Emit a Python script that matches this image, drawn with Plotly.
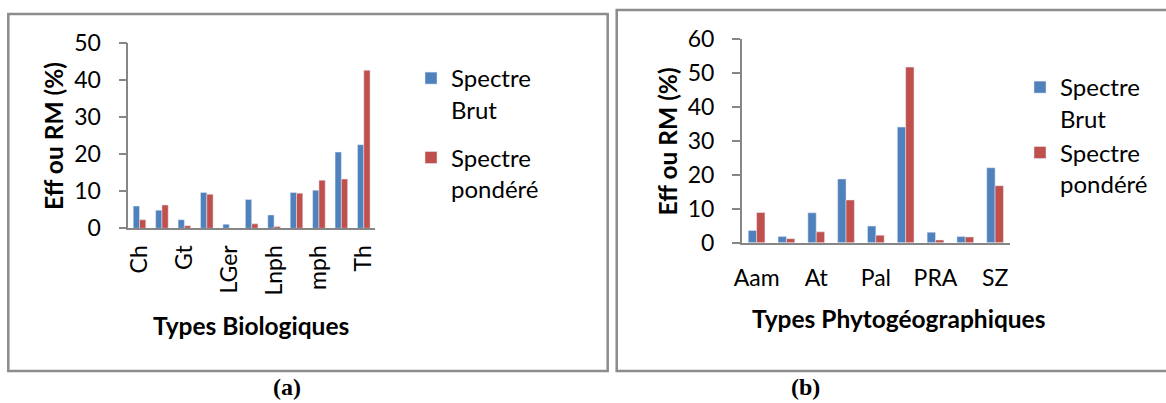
import plotly.graph_objects as go

# ---------------- data ----------------
bio_types = ["Ch", "Gb", "Gt", "He", "LGer", "Lmph", "Lnph", "mcph", "mph", "nph", "Th"]
bio_brut = [6.0, 4.9, 2.3, 9.7, 1.1, 7.8, 3.6, 9.7, 10.3, 20.6, 22.6]
bio_pond = [2.3, 6.3, 0.7, 9.2, 0.0, 1.2, 0.5, 9.5, 13.0, 13.3, 42.7]
bio_ticks = ["Ch", "Gt", "LGer", "Lnph", "mph", "Th"]

geo_types = ["Aam", "Cosm", "At", "End", "Pal", "SA", "PRA", "Med", "SZ"]
geo_brut = [3.6, 1.8, 8.8, 18.8, 4.9, 34.1, 3.1, 1.8, 22.1]
geo_pond = [8.9, 1.2, 3.2, 12.6, 2.2, 51.8, 0.8, 1.7, 16.8]
geo_ticks = ["Aam", "At", "Pal", "PRA", "SZ"]

series_names = ["Spectre<br>Brut", "Spectre<br>pondéré"]
colors = ["#4F81BD", "#C0504D"]

# ---------------- layout helpers ----------------
W, H = 1166, 403
def xp(px):
    return px / W
def yp(py):
    return 1 - py / H

FONT = "Lato"
AXC = "#868686"

fig = go.Figure()

for name, vals, col, grp in zip(series_names, [bio_brut, bio_pond], colors, ["b", "p"]):
    fig.add_trace(go.Bar(x=bio_types, y=vals, name=name, marker_color=col,
                         xaxis="x", yaxis="y", legend="legend", legendgroup=grp))
for name, vals, col, grp in zip(series_names, [geo_brut, geo_pond], colors, ["b", "p"]):
    fig.add_trace(go.Bar(x=geo_types, y=vals, name=name, marker_color=col,
                         xaxis="x2", yaxis="y2", legend="legend2", legendgroup=grp))

common_y = dict(showline=True, linecolor=AXC, linewidth=1.5, ticks="outside",
                ticklen=8, tickwidth=1.5, tickcolor=AXC, showgrid=False, zeroline=False,
                tickfont=dict(family=FONT, size=23, color="black"), ticklabelstandoff=13)
common_x = dict(showline=True, linecolor=AXC, linewidth=1.5, ticks="", showgrid=False,
                tickfont=dict(family=FONT, size=23, color="black"), type="category")

fig.update_layout(
    width=W, height=H, autosize=False,
    margin=dict(l=0, r=0, t=0, b=0, autoexpand=False),
    paper_bgcolor="white", plot_bgcolor="white",
    barmode="group", bargap=0.44, bargroupgap=0,
    font=dict(family=FONT, color="black"),
    xaxis=dict(domain=[xp(128.3), xp(375)], anchor="y", tickangle=-90,
               tickvals=bio_ticks, ticktext=bio_ticks, ticklabelstandoff=6, **common_x),
    yaxis=dict(domain=[yp(228.3), yp(43.3)], anchor="x", range=[0, 50], dtick=10, **common_y),
    xaxis2=dict(domain=[xp(741.7), xp(1010)], anchor="y2", tickangle=0,
                tickvals=geo_ticks, ticktext=geo_ticks, ticklabelstandoff=14, **common_x),
    yaxis2=dict(domain=[yp(242.7), yp(39.3)], anchor="x2", range=[0, 60], dtick=10, **common_y),
    legend=dict(x=xp(411), y=yp(56), xanchor="left", yanchor="top", valign="top",
                font=dict(family=FONT, size=24, color="black"), bgcolor="rgba(0,0,0,0)",
                tracegroupgap=14, traceorder="grouped", itemwidth=30),
    legend2=dict(x=xp(1020), y=yp(65), xanchor="left", yanchor="top", valign="top",
                 font=dict(family=FONT, size=24, color="black"), bgcolor="rgba(0,0,0,0)",
                 tracegroupgap=0, traceorder="grouped", itemwidth=30),
)

# panel frames
fig.add_shape(type="rect", xref="paper", yref="paper",
              x0=xp(8.3), x1=xp(607.7), y0=yp(371), y1=yp(14),
              line=dict(color="#8C8C8C", width=2.5))
fig.add_shape(type="path", xref="paper", yref="paper",
              path=f"M {xp(1170)} {yp(10)} L {xp(616.7)} {yp(10)} L {xp(616.7)} {yp(371)} L {xp(1170)} {yp(371)}",
              line=dict(color="#8C8C8C", width=2.5))

def label(x, y, text, size=24.5, angle=0, family=FONT):
    fig.add_annotation(x=xp(x), y=yp(y), xref="paper", yref="paper", text=text,
                       xanchor="center", yanchor="middle", textangle=angle, showarrow=False,
                       font=dict(family=family, size=size, color="black"))

# axis titles
label(53.0, 136, "<b>Eff ou RM (%)</b>", angle=-90)
label(250.6, 325, "<b>Types Biologiques</b>")
label(667.7, 141.7, "<b>Eff ou RM (%)</b>", angle=-90)
label(898.6, 318, "<b>Types Phytogéographiques</b>")

# captions
label(286.5, 386.5, "<b>(a)</b>", size=24, family="Liberation Serif")
label(805.7, 386.5, "<b>(b)</b>", size=24, family="Liberation Serif")

fig.write_html("out.html", config={"displayModeBar": False},
               post_script="document.body.style.margin='0px';")
